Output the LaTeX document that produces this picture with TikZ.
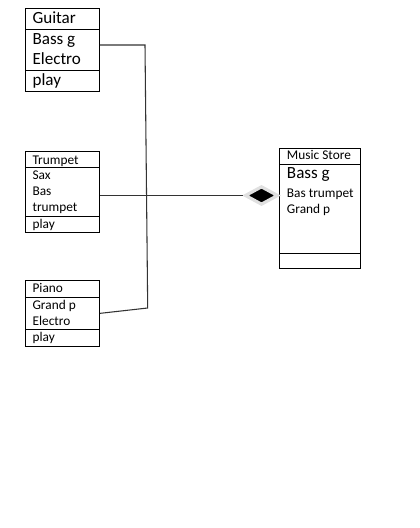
\documentclass[tikz,border=0pt]{standalone}
\usepackage{fontspec}
\setmainfont{Carlito}
\usetikzlibrary{shapes.geometric}
\newcommand{\umlbig}{\fontsize{12.8}{15}\selectfont}
\newcommand{\umlsmall}{\fontsize{10}{12}\selectfont}
\begin{document}
\begin{tikzpicture}[x=0.75pt, y=-0.75pt,
	part/.style={rectangle, draw=black, line width=0.7pt, inner sep=0pt, minimum width=#1},
	txt/.style={anchor=base west, inner sep=0pt},
	link/.style={line width=0.8pt, color=black!80}]

		\useasboundingbox (0,0) rectangle (420,528);

		% Guitar
		\node[part=55.9pt, minimum height=15.75pt](guitarHead) at (62.25,18.8){};
		\node[part=55.9pt, minimum height=30.75pt](guitarAttr) at (62.25,49.8){};
		\node[part=55.9pt, minimum height=15.5pt](guitarOps) at (62.25,80.65){};
		\node[txt, font=\umlbig](guitarName) at (32.3,24){Guitar};
		\node[txt, font=\umlbig](guitarBass) at (32.3,44.3){Bass g};
		\node[txt, font=\umlbig](guitarElectro) at (32.3,64.3){Electro};
		\node[txt, font=\umlbig](guitarPlay) at (32.3,85){play};

		% Trumpet
		\node[part=55.9pt, minimum height=12.2pt](trumpetHead) at (62.25,159.15){};
		\node[part=55.9pt, minimum height=36.5pt](trumpetAttr) at (62.25,191.65){};
		\node[part=55.9pt, minimum height=12pt](trumpetOps) at (62.25,224){};
		\node[txt, font=\umlsmall](trumpetName) at (32.3,164){Trumpet};
		\node[txt, font=\umlsmall](trumpetSax) at (32.3,179.3){Sax};
		\node[txt, font=\umlsmall](trumpetBas) at (32.3,195.3){Bas};
		\node[txt, font=\umlsmall](trumpetTrumpet) at (32.3,211.3){trumpet};
		\node[txt, font=\umlsmall](trumpetPlay) at (32.3,228.3){play};

		% Piano
		\node[part=55.9pt, minimum height=13.05pt](pianoHead) at (62.25,289){};
		\node[part=55.9pt, minimum height=23.5pt](pianoAttr) at (62.25,313.35){};
		\node[part=55.9pt, minimum height=12.75pt](pianoOps) at (62.25,337.5){};
		\node[txt, font=\umlsmall](pianoName) at (32.3,292.7){Piano};
		\node[txt, font=\umlsmall](pianoGrand) at (32.3,309.3){Grand p};
		\node[txt, font=\umlsmall](pianoElectro) at (32.3,325.7){Electro};
		\node[txt, font=\umlsmall](pianoPlay) at (32.3,341.7){play};

		% Music Store
		\node[part=60.75pt, minimum height=11.8pt](storeHead) at (320,156.15){};
		\node[part=60.75pt, minimum height=67pt](storeAttr) at (320,208.65){};
		\node[part=60.75pt, minimum height=11.25pt](storeOps) at (320,260.8){};
		\node[txt, font=\umlsmall](storeName) at (286.7,159){Music Store};
		\node[txt, font=\umlbig](storeBass) at (286.7,178.3){Bass g};
		\node[txt, font=\umlsmall](storeBas) at (286.7,197.3){Bas trumpet};
		\node[txt, font=\umlsmall](storeGrand) at (286.7,213.3){Grand p};

		% composition diamond
		\node[diamond, fill=black, draw=black!12, line width=2.4pt, inner sep=0pt, minimum width=25pt, minimum height=14pt](storeLink) at (261.5,195.5){};

		\coordinate(guitarBend) at (145,45);
		\coordinate(pianoBend) at (147.7,308);

		\draw [link] (guitarAttr.east |- guitarBend) -- (guitarBend) -- (pianoBend) -- (pianoAttr.east);
		\draw [link] (trumpetAttr.east |- storeLink.west) -- (storeLink.west);

	\end{tikzpicture}
\end{document}
